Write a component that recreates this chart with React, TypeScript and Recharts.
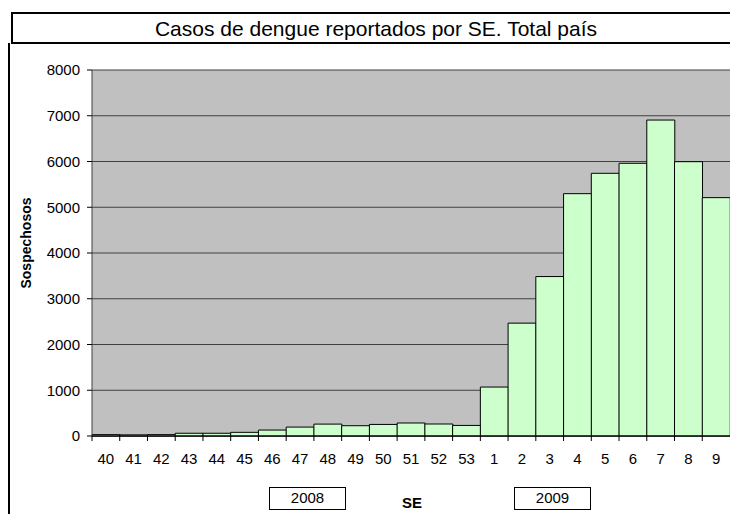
import { BarChart, Bar, XAxis, YAxis, CartesianGrid } from "recharts";

const weeks = [
  "40", "41", "42", "43", "44", "45", "46", "47", "48", "49", "50", "51", "52", "53",
  "1", "2", "3", "4", "5", "6", "7", "8", "9",
];
const cases = [
  30, 25, 30, 60, 60, 80, 130, 195, 260, 225, 253, 284, 262, 231,
  1070, 2467, 3485, 5297, 5742, 5961, 6906, 5996, 5210,
];
const yTicks = [0, 1000, 2000, 3000, 4000, 5000, 6000, 7000, 8000];

const data = weeks.map((w, i) => ({ se: w, casos: cases[i] }));

const W = 730;
const H = 514;
const PLOT_LEFT = 92;
const BAND = (W - PLOT_LEFT) / weeks.length;
const FONT = "'Liberation Sans', Arial, sans-serif";

function XTick(props: any) {
  const { x, y, payload } = props;
  const left = x - BAND / 2;
  return (
    <g>
      <line x1={left} y1={y} x2={left} y2={y + 5} stroke="#000" />
      <text
        x={x}
        y={y + 28}
        textAnchor="middle"
        fontSize={15}
        fontFamily={FONT}
        fill="#000"
      >
        {payload.value}
      </text>
    </g>
  );
}

export default function App() {
  return (
    <div style={{ position: "absolute", left: 0, top: 0, width: W, height: H, background: "#fff" }}>
      <BarChart
        width={W}
        height={H}
        data={data}
        margin={{ top: 70, right: 0, bottom: 0, left: 0 }}
        barCategoryGap={0}
        barGap={0}
      >
        <CartesianGrid vertical={false} fill="#c0c0c0" stroke="#404040" />
        <XAxis
          dataKey="se"
          height={78}
          tickLine={false}
          tickSize={0}
          tickMargin={0}
          axisLine={{ stroke: "#000" }}
          tick={<XTick />}
          interval={0}
        />
        <YAxis
          width={92}
          domain={[0, 8000]}
          ticks={yTicks}
          tickSize={5}
          tickMargin={7}
          tickLine={{ stroke: "#000" }}
          axisLine={{ stroke: "#404040" }}
          tick={{ fontSize: 15, fontFamily: FONT, fill: "#000" }}
        />
        <Bar
          dataKey="casos"
          fill="#ccffcc"
          stroke="#000"
          strokeWidth={1}
          isAnimationActive={false}
        />
      </BarChart>
      <svg
        width={W}
        height={H}
        style={{ position: "absolute", left: 0, top: 0, pointerEvents: "none" }}
      >
        <line x1={9} y1={43} x2={9} y2={H} stroke="#000" strokeWidth={2} />
        <rect x={12} y={13} width={W} height={30} fill="#fff" stroke="#000" strokeWidth={2} />
        <text x={376} y={36} textAnchor="middle" fontSize={21} fontFamily={FONT} fill="#000">
          Casos de dengue reportados por SE. Total país
        </text>
        <text
          x={0}
          y={0}
          transform="translate(31,243) rotate(-90)"
          textAnchor="middle"
          fontSize={14}
          fontWeight="bold"
          fontFamily={FONT}
          fill="#000"
        >
          Sospechosos
        </text>
        <text x={412} y={508} textAnchor="middle" fontSize={15} fontWeight="bold" fontFamily={FONT} fill="#000">
          SE
        </text>
        <rect x={269.5} y={487.5} width={76} height={22} fill="#fff" stroke="#000" />
        <text x={307.5} y={503} textAnchor="middle" fontSize={15} fontFamily={FONT} fill="#000">
          2008
        </text>
        <rect x={514.5} y={487.5} width={76} height={22} fill="#fff" stroke="#000" />
        <text x={552.5} y={503} textAnchor="middle" fontSize={15} fontFamily={FONT} fill="#000">
          2009
        </text>
      </svg>
    </div>
  );
}
